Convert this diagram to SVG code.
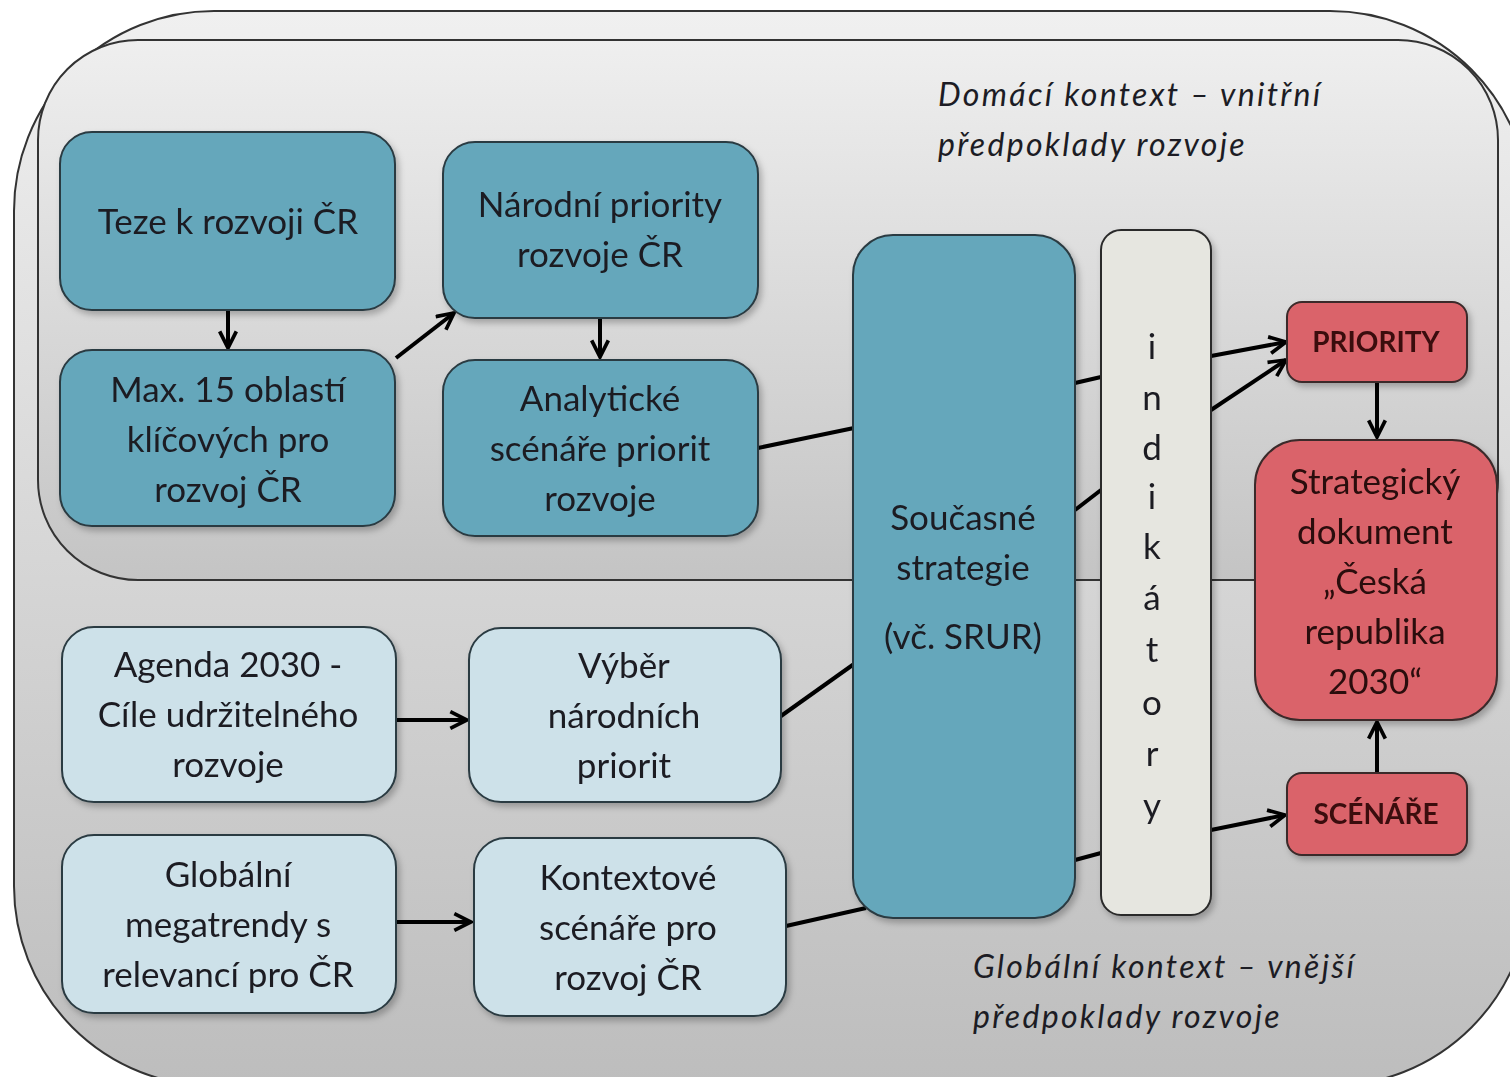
<svg xmlns="http://www.w3.org/2000/svg" width="1510" height="1077" viewBox="0 0 1510 1077">
<defs>
<linearGradient id="gOuter" x1="0" y1="0" x2="0" y2="1">
<stop offset="0" stop-color="#f0f0f0"/>
<stop offset="1" stop-color="#bdbdbd"/>
</linearGradient>
<linearGradient id="gInner" x1="0" y1="0" x2="0" y2="1">
<stop offset="0" stop-color="#efefef"/>
<stop offset="1" stop-color="#c4c4c4"/>
</linearGradient>
<filter id="sh" x="-10%" y="-10%" width="130%" height="130%">
<feDropShadow dx="3" dy="4" stdDeviation="3" flood-color="#000" flood-opacity="0.25"/>
</filter>
<marker id="arr" viewBox="0 0 12 12" refX="11" refY="6" markerWidth="5" markerHeight="5" markerUnits="strokeWidth" orient="auto">
<path d="M1,1 L11,6 L1,11" fill="none" stroke="#000" stroke-width="2.2"/>
</marker>
<style>
.dark{fill:#65a7bb;stroke:#2b3b42;stroke-width:2}
.light{fill:#cde1e9;stroke:#2b3b42;stroke-width:2}
.red{fill:#da646a;stroke:#3a2a2a;stroke-width:2}
.ind{fill:#e6e6e0;stroke:#2b2b2b;stroke-width:2}
text{font-family:Lato,"Liberation Sans","Noto Sans",sans-serif;font-size:35px;fill:#1c1c24;text-anchor:middle}
.it{font-style:italic;text-anchor:start;letter-spacing:2.3px;font-size:32px}
.b{font-weight:bold;font-size:28px;fill:#3a0d10}
.rt{fill:#2a0c0c}
.con line{stroke:#000;stroke-width:4}
.con .a{marker-end:url(#arr)}
</style>
</defs>
<rect width="1510" height="1077" fill="#ffffff"/>
<g id="outer">
<rect x="14" y="11" width="1516" height="1075" rx="200" ry="200" fill="url(#gOuter)" stroke="#333" stroke-width="2"/>
</g>
<g id="inner">
<rect x="38" y="40" width="1460" height="540" rx="100" ry="100" fill="url(#gInner)" stroke="#333" stroke-width="2"/>
</g>
<g id="label-domestic">
<text class="it" x="938" y="106">Domácí kontext – vnitřní</text>
<text class="it" x="938" y="156">předpoklady rozvoje</text>
</g>
<g id="label-global">
<text class="it" x="973" y="978">Globální kontext – vnější</text>
<text class="it" x="973" y="1028">předpoklady rozvoje</text>
</g>
<g class="con" id="connectors">
<line class="a" x1="228" y1="310" x2="228" y2="348"/>
<line class="a" x1="396" y1="358" x2="454" y2="313"/>
<line class="a" x1="600" y1="318" x2="600" y2="357"/>
<line x1="758" y1="448" x2="854" y2="428"/>
<line x1="781" y1="716" x2="854" y2="664"/>
<line x1="786" y1="926" x2="866" y2="908"/>
<line class="a" x1="396" y1="720" x2="467" y2="720"/>
<line class="a" x1="396" y1="922" x2="471" y2="922"/>
<line x1="1075" y1="383" x2="1101" y2="377"/>
<line x1="1075" y1="510" x2="1101" y2="490"/>
<line x1="1075" y1="860" x2="1101" y2="853"/>
<line class="a" x1="1211" y1="356" x2="1286" y2="342"/>
<line class="a" x1="1211" y1="410" x2="1286" y2="360"/>
<line class="a" x1="1211" y1="830" x2="1285" y2="815"/>
<line class="a" x1="1377" y1="383" x2="1377" y2="437"/>
<line class="a" x1="1377" y1="773" x2="1377" y2="722"/>
</g>
<g id="teze" filter="url(#sh)">
<rect class="dark" x="60" y="132" width="335" height="178" rx="32"/>
<text x="228" y="234">Teze k rozvoji ČR</text>
</g>
<g id="max15" filter="url(#sh)">
<rect class="dark" x="60" y="350" width="335" height="176" rx="32"/>
<text x="228" y="402">Max. 15 oblastí</text>
<text x="228" y="452">klíčových pro</text>
<text x="228" y="502">rozvoj ČR</text>
</g>
<g id="narodni" filter="url(#sh)">
<rect class="dark" x="443" y="142" width="315" height="176" rx="32"/>
<text x="600" y="217">Národní priority</text>
<text x="600" y="267">rozvoje ČR</text>
</g>
<g id="analyticke" filter="url(#sh)">
<rect class="dark" x="443" y="360" width="315" height="176" rx="32"/>
<text x="600" y="411">Analytické</text>
<text x="600" y="461">scénáře priorit</text>
<text x="600" y="511">rozvoje</text>
</g>
<g id="soucasne" filter="url(#sh)">
<rect class="dark" x="853" y="235" width="222" height="683" rx="40"/>
<text x="963" y="530">Současné</text>
<text x="963" y="580">strategie</text>
<text x="963" y="649">(vč. SRUR)</text>
</g>
<g id="indikatory" filter="url(#sh)">
<rect class="ind" x="1101" y="230" width="110" height="685" rx="20"/>
<text x="1152" y="359">i</text>
<text x="1152" y="410">n</text>
<text x="1152" y="460">d</text>
<text x="1152" y="509">i</text>
<text x="1152" y="559">k</text>
<text x="1152" y="610">á</text>
<text x="1152" y="662">t</text>
<text x="1152" y="715">o</text>
<text x="1152" y="766">r</text>
<text x="1152" y="818">y</text>
</g>
<g id="priority" filter="url(#sh)">
<rect class="red" x="1287" y="302" width="180" height="80" rx="15"/>
<text class="b" x="1376" y="352">PRIORITY</text>
</g>
<g id="strategicky" filter="url(#sh)">
<rect class="red" x="1255" y="440" width="242" height="280" rx="45"/>
<text class="rt" x="1375" y="494">Strategický</text>
<text class="rt" x="1375" y="544">dokument</text>
<text class="rt" x="1375" y="594">„Česká</text>
<text class="rt" x="1375" y="644">republika</text>
<text class="rt" x="1375" y="694">2030“</text>
</g>
<g id="scenare" filter="url(#sh)">
<rect class="red" x="1287" y="773" width="180" height="82" rx="15"/>
<text class="b" x="1376" y="824">SCÉNÁŘE</text>
</g>
<g id="agenda" filter="url(#sh)">
<rect class="light" x="62" y="627" width="334" height="175" rx="32"/>
<text x="228" y="677">Agenda 2030 -</text>
<text x="228" y="727">Cíle udržitelného</text>
<text x="228" y="777">rozvoje</text>
</g>
<g id="vyber" filter="url(#sh)">
<rect class="light" x="469" y="628" width="312" height="174" rx="32"/>
<text x="624" y="678">Výběr</text>
<text x="624" y="728">národních</text>
<text x="624" y="778">priorit</text>
</g>
<g id="globalni" filter="url(#sh)">
<rect class="light" x="62" y="835" width="334" height="178" rx="32"/>
<text x="228" y="887">Globální</text>
<text x="228" y="937">megatrendy s</text>
<text x="228" y="987">relevancí pro ČR</text>
</g>
<g id="kontextove" filter="url(#sh)">
<rect class="light" x="474" y="838" width="312" height="178" rx="32"/>
<text x="628" y="890">Kontextové</text>
<text x="628" y="940">scénáře pro</text>
<text x="628" y="990">rozvoj ČR</text>
</g>
</svg>
